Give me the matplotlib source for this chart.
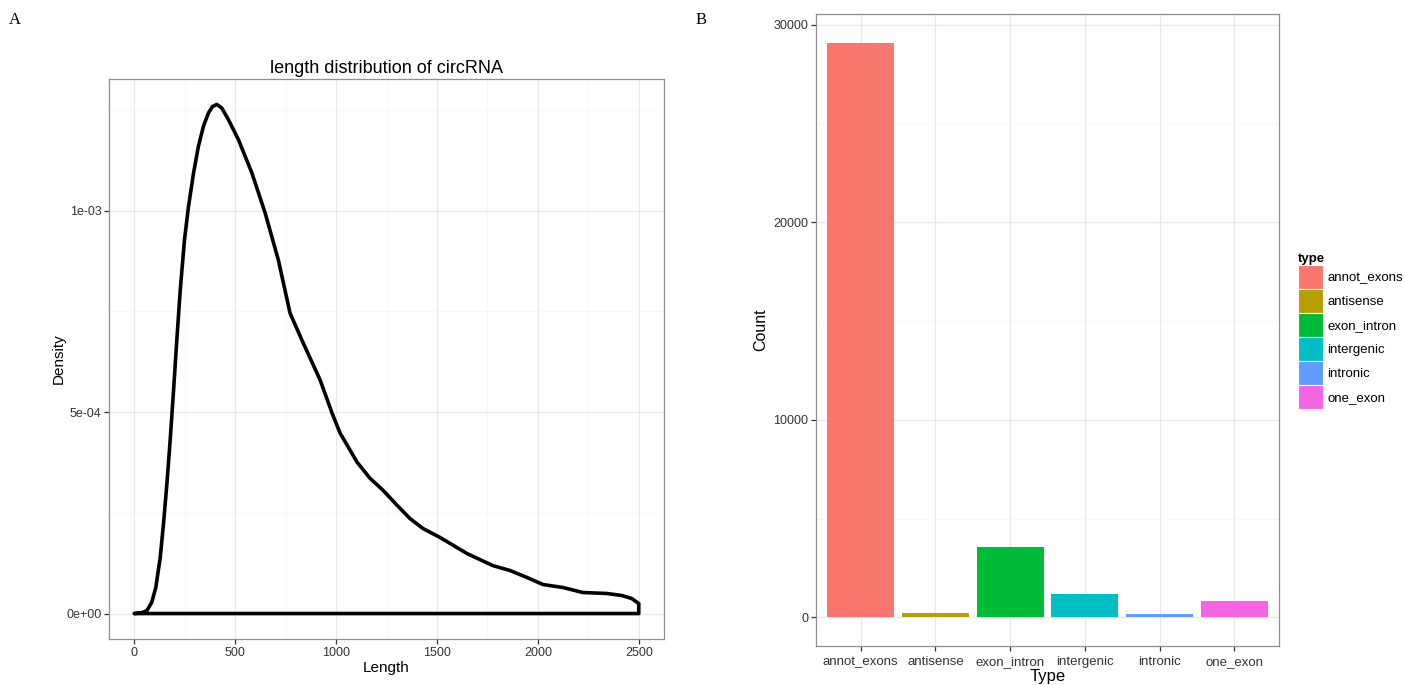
#recreate circRNA length density + type count panels

import numpy as np
import matplotlib as mpl
mpl.use("Agg")
import matplotlib.pyplot as plt
from matplotlib.patches import Patch
from matplotlib.ticker import MultipleLocator, FixedLocator

mpl.rcParams['font.family'] = ['Liberation Sans', 'DejaVu Sans']

# panel A: density curve
length = [0, 38, 63, 87, 107, 129, 145, 162, 178, 195, 211, 228, 249, 269,
          294, 318, 343, 368, 388, 409, 434, 467, 516, 583, 649, 714, 772,
          837, 921, 980, 1020, 1104, 1168, 1233, 1302, 1366, 1431, 1515,
          1649, 1777, 1861, 1946, 2025, 2124, 2223, 2342, 2416, 2465, 2500]
density = [0.0, 2.0e-6, 7.5e-6, 2.8e-5, 6.5e-5, 1.40e-4, 2.23e-4, 3.23e-4,
           4.30e-4, 5.55e-4, 6.79e-4, 8.03e-4, 9.28e-4, 1.011e-3, 1.094e-3,
           1.160e-3, 1.210e-3, 1.243e-3, 1.259e-3, 1.264e-3, 1.255e-3,
           1.226e-3, 1.177e-3, 1.094e-3, 9.94e-4, 8.78e-4, 7.46e-4,
           6.72e-4, 5.80e-4, 4.98e-4, 4.48e-4, 3.76e-4, 3.36e-4, 3.06e-4,
           2.69e-4, 2.36e-4, 2.11e-4, 1.89e-4, 1.49e-4, 1.19e-4, 1.07e-4,
           8.96e-5, 7.21e-5, 6.47e-5, 5.22e-5, 4.98e-5, 4.48e-5, 3.73e-5,
           2.49e-5]

# panel B: counts per type
types = ['annot_exons', 'antisense', 'exon_intron', 'intergenic',
         'intronic', 'one_exon']
counts = [29100, 210, 3580, 1160, 170, 830]
colors = ['#F8766D', '#B79F00', '#00BA38', '#00BFC4', '#619CFF', '#F564E3']

TICK_COL = '#333333'
BORDER = '#8f8f8f'


def style_axes(ax):
    ax.set_facecolor('white')
    for s in ax.spines.values():
        s.set_color(BORDER)
        s.set_linewidth(0.9)
    ax.grid(which='major', color='#E8E8E8', lw=0.9)
    ax.grid(which='minor', color='#F6F6F6', lw=0.6)
    ax.set_axisbelow(True)
    ax.tick_params(which='major', length=3.5, width=0.9, color=TICK_COL,
                   labelcolor=TICK_COL, labelsize=9, pad=2)
    ax.tick_params(which='minor', length=0)


fig = plt.figure(figsize=(14.04, 6.85), dpi=100)

# ---- A ----
ax1 = fig.add_axes([109 / 1404, 1 - 639 / 685, 555 / 1404, 560 / 685])
style_axes(ax1)
xs = np.array(length, dtype=float)
ys = np.array(density)
# geom_density outline: curve, drop to baseline, back along baseline
px = np.concatenate([xs, [xs[-1], xs[0]]])
py = np.concatenate([ys, [0, 0]])
ax1.fill(px, py, fill=False, edgecolor='black', lw=2.6, joinstyle='round')
span = xs.max() - xs.min()
ax1.set_xlim(xs.min() - 0.05 * span, xs.max() + 0.05 * span)
ax1.set_ylim(-0.05 * ys.max(), 1.05 * ys.max())
ax1.xaxis.set_major_locator(MultipleLocator(500))
ax1.xaxis.set_minor_locator(MultipleLocator(250))
ax1.yaxis.set_minor_locator(MultipleLocator(2.5e-4))
ax1.set_yticks([0, 5e-4, 1e-3])
ax1.set_yticklabels(['0e+00', '5e-04', '1e-03'])
ax1.set_xlabel('Length', fontsize=11, labelpad=2)
ax1.set_ylabel('Density', fontsize=11, labelpad=0)
ax1.set_title('length distribution of circRNA', fontsize=13, pad=4)

# ---- B ----
ax2 = fig.add_axes([816 / 1404, 1 - 646 / 685, 463 / 1404, 632 / 685])
style_axes(ax2)
pos = np.arange(len(types))
ax2.bar(pos, counts, width=0.9, color=colors, edgecolor='none')
ax2.set_xlim(-0.6, len(types) - 0.4)
ax2.set_ylim(-0.05 * max(counts), 1.05 * max(counts))
ax2.set_xticks(pos)
ax2.set_xticklabels(types)
ax2.yaxis.set_major_locator(FixedLocator([0, 10000, 20000, 30000]))
ax2.yaxis.set_minor_locator(FixedLocator([5000, 15000, 25000]))
ax2.tick_params(axis='x', labelsize=9.5, pad=4)
ax2.set_xlabel('Type', fontsize=12, labelpad=0.5)
ax2.set_ylabel('Count', fontsize=11.5, labelpad=4)

# legend keys stacked edge to edge, as ggplot draws them
handles = [Patch(facecolor=c, edgecolor='white', lw=0.8) for c in colors]
leg = fig.legend(handles, types, title='type', loc='upper left',
                 bbox_to_anchor=(1298 / 1404, 1 - 253 / 685),
                 frameon=False, fontsize=9.5, title_fontsize=9.5,
                 handlelength=1.9, handleheight=2.42, labelspacing=0.0,
                 handletextpad=0.3, borderpad=0, borderaxespad=0)
leg.get_title().set_fontweight('bold')
leg._legend_box.align = 'left'

# panel letters
fig.text(15 / 1404, 1 - 20 / 685, 'A', family='Liberation Serif',
         fontsize=12, ha='center', va='center')
fig.text(701 / 1404, 1 - 20 / 685, 'B', family='Liberation Serif',
         fontsize=12, ha='center', va='center')

plt.savefig('out.png', dpi=100)
